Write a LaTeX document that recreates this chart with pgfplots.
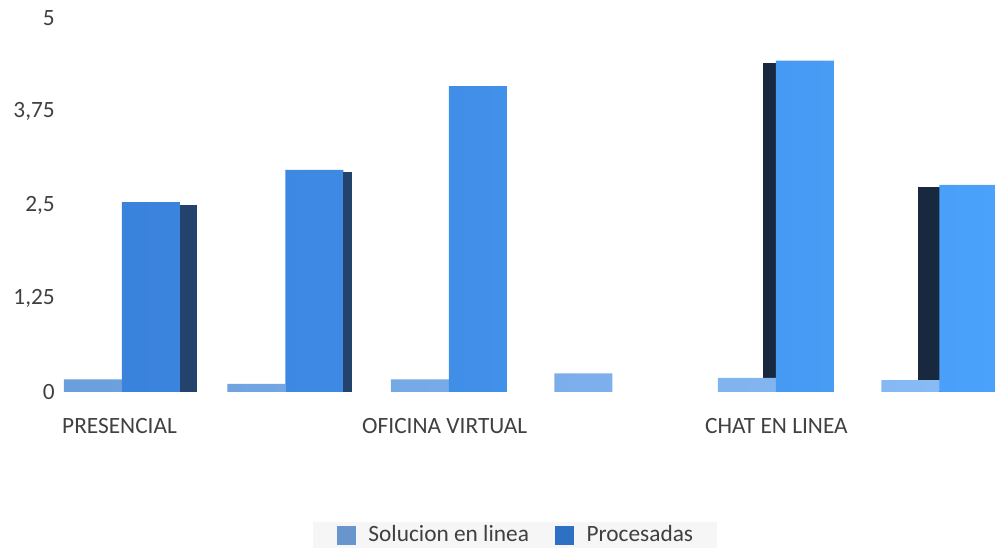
\documentclass[border=0pt]{standalone}
\usepackage{pgfplots}
\pgfplotsset{compat=1.18}
\usepackage{fontspec}
\setmainfont{Carlito}
\definecolor{txt}{HTML}{404040}
\definecolor{solL}{HTML}{6A9FDC}
\definecolor{solR}{HTML}{88BAF5}
\definecolor{proL}{HTML}{3A82DC}
\definecolor{proR}{HTML}{4BA2FA}
\definecolor{sideR}{HTML}{24436C}
\definecolor{sideL}{HTML}{18283E}
\definecolor{legSol}{HTML}{6896CC}
\definecolor{legPro}{HTML}{2E70C4}
\definecolor{legbg}{HTML}{F6F6F6}
\begin{document}
\begin{tikzpicture}
\path[use as bounding box] (0,0) rectangle (746.25pt,414pt);
\begin{axis}[
  at={(45pt,120pt)}, anchor=south west,
  scale only axis, width=701.25pt, height=280.5pt,
  xmin=-0.379, xmax=5.34, ymin=0, ymax=5,
  axis line style={draw=none},
  tick style={draw=none},
  ytick={0,1.25,2.5,3.75,5},
  yticklabels={0,{1,25},{2,5},{3,75},5},
  xtick={-0.367,1.468,3.566},
  xticklabels={PRESENCIAL,OFICINA VIRTUAL,CHAT EN LINEA},
  tick label style={font=\fontsize{17.5}{20}\selectfont, text=txt},
  x tick label style={anchor=north west, inner sep=0pt, yshift=-19.5pt},
  y tick label style={anchor=east, inner sep=0pt, xshift=-3.75pt},
  legend style={at={(0.4866,-0.382)}, anchor=center, draw=none, fill=legbg,
    legend columns=2, font=\fontsize{17.5}{20}\selectfont, text=txt,
    inner xsep=18pt, inner ysep=3pt,
    nodes={inner sep=0pt},
    cells={anchor=west},
    /tikz/every odd column/.append style={column sep=9.75pt},
    /tikz/every even column/.append style={column sep=19.5pt}},
]
% left side faces (depth) of groups to the right of the viewpoint
\addplot[ybar, bar width=9.75pt, bar shift=-4.5pt, draw=none, fill=sideL, forget plot]
  coordinates {(4,4.40)};
\addplot[ybar, bar width=16.5pt, bar shift=-8pt, draw=none, fill=sideL, forget plot]
  coordinates {(5,2.74)};
% Solucion en linea
\addplot[ybar, bar width=43.5pt, bar shift=-21.75pt, draw=none, left color=solL, right color=solR, forget plot]
  coordinates {(0,0.17) (1,0.11) (2,0.17) (3,0.25) (4,0.19) (5,0.16)};
% Procesadas
\addplot[ybar, bar width=43.5pt, bar shift=21.75pt, draw=none, left color=proL, right color=proR, forget plot]
  coordinates {(0,2.54) (1,2.97) (2,4.09) (4,4.43) (5,2.77)};
% right side faces of groups to the left of the viewpoint
\addplot[ybar, bar width=12.75pt, bar shift=49.9pt, draw=none, fill=sideR, forget plot]
  coordinates {(0,2.50)};
\addplot[ybar, bar width=6.75pt, bar shift=46.9pt, draw=none, fill=sideR, forget plot]
  coordinates {(1,2.94)};
\addlegendimage{legend image code/.code={\fill[legSol] (0pt,-6.75pt) rectangle (13.5pt,6.75pt);}}
\addlegendentry{Solucion en linea}
\addlegendimage{legend image code/.code={\fill[legPro] (0pt,-6.75pt) rectangle (13.5pt,6.75pt);}}
\addlegendentry{Procesadas}
\end{axis}
\end{tikzpicture}
\end{document}
